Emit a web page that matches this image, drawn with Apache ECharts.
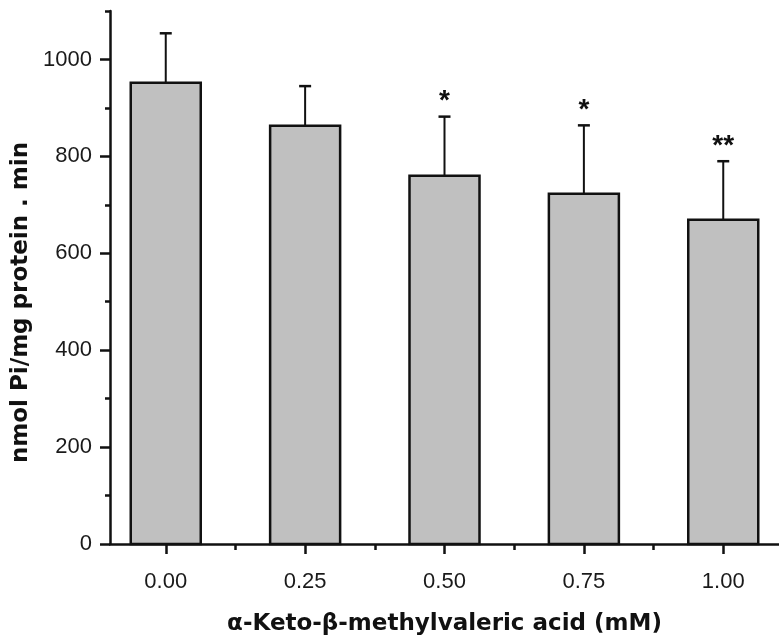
<!DOCTYPE html>
<html>
<head>
<meta charset="utf-8">
<script src="https://cdn.jsdelivr.net/npm/echarts@6/dist/echarts.min.js"></script>
<style>html,body{margin:0;padding:0;background:#fff}#c{width:779px;height:641px}</style>
</head>
<body>
<div id="c"></div>
<script>
var concentrations = [0, 0.25, 0.5, 0.75, 1.0];
var means = [952, 863, 760, 723, 669];
var sds = [102, 82, 122, 141, 121];
var marks = ["", "", "*", "*", "**"];
var yMajorTicks = [0, 200, 400, 600, 800, 1000];
var yMinorTicks = [100, 300, 500, 700, 900, 1100];
var xMajorTicks = [0, 0.25, 0.5, 0.75, 1.0];
var xMinorTicks = [0.125, 0.375, 0.625, 0.875];

var chart = echarts.init(document.getElementById('c'));
var seriesData = concentrations.map(function (x, i) { return [x, means[i], means[i] + sds[i], i]; });

var axisLineStyle = { color: '#111', width: 2.5 };
var tickFont = { fontFamily: "'Liberation Sans', Arial, sans-serif", fontSize: 22, color: '#1a1a1a' };

chart.setOption({
  animation: false,
  grid: { left: 110, right: -4, top: 11, bottom: 87, containLabel: false },
  xAxis: [{
    type: 'value', min: -0.1, max: 1.1,
    name: 'α-Keto-β-methylvaleric acid (mM)', nameLocation: 'middle', nameGap: 69,
    nameTextStyle: { fontFamily: "'DejaVu Sans'", fontWeight: 'bold', fontSize: 23, color: '#111' },
    axisLine: { show: true, onZero: false, lineStyle: axisLineStyle },
    axisTick: { show: true, length: 10, inside: false, customValues: xMajorTicks, lineStyle: { color: '#111', width: 2.5 } },
    axisLabel: Object.assign({ customValues: xMajorTicks, margin: 27, formatter: function (v) { return v.toFixed(2); } }, tickFont),
    splitLine: { show: false }
  }, {
    type: 'value', min: -0.1, max: 1.1, position: 'bottom',
    axisLine: { show: false, onZero: false },
    axisTick: { show: true, length: 6, customValues: xMinorTicks, lineStyle: { color: '#111', width: 2.5 } },
    axisLabel: { show: false },
    splitLine: { show: false }
  }],
  yAxis: [{
    type: 'value', min: 0, max: 1100,
    name: 'nmol Pi/mg protein . min', nameLocation: 'middle', nameGap: 76, nameRotate: 90,
    nameTextStyle: { fontFamily: "'DejaVu Sans'", fontWeight: 'bold', fontSize: 23, color: '#111', padding: [0, 50, 0, 0] },
    axisLine: { show: true, onZero: false, lineStyle: axisLineStyle },
    axisTick: { show: true, length: 10, customValues: yMajorTicks, lineStyle: { color: '#111', width: 2.5 } },
    axisLabel: Object.assign({ customValues: yMajorTicks, margin: 18, formatter: function (v) { return String(v); } }, tickFont),
    splitLine: { show: false }
  }, {
    type: 'value', min: 0, max: 1100, position: 'left',
    axisLine: { show: false, onZero: false },
    axisTick: { show: true, length: 5, customValues: yMinorTicks, lineStyle: { color: '#111', width: 2.5 } },
    axisLabel: { show: false },
    splitLine: { show: false }
  }],
  series: [{
    type: 'custom',
    data: seriesData,
    z: 3,
    renderItem: function (params, api) {
      var x = api.value(0);
      var top = api.coord([x, api.value(1)]);
      var base = api.coord([x, 0]);
      var hi = api.coord([x, api.value(2)]);
      var idx = api.value(3);
      var bw = 70;
      var children = [
        { type: 'line', shape: { x1: top[0], y1: top[1], x2: hi[0], y2: hi[1] }, style: { stroke: '#111', lineWidth: 2 } },
        { type: 'line', shape: { x1: hi[0] - 6, y1: hi[1], x2: hi[0] + 6, y2: hi[1] }, style: { stroke: '#111', lineWidth: 2.5 } },
        { type: 'rect', shape: { x: top[0] - bw / 2, y: top[1], width: bw, height: base[1] - top[1] },
          style: { fill: '#c0c0c0', stroke: '#111', lineWidth: 2.5 } }
      ];
      if (marks[idx]) {
        children.push({
          type: 'text',
          style: {
            text: marks[idx], x: hi[0], y: hi[1] - 1,
            align: 'center', verticalAlign: 'bottom',
            fontFamily: "'Liberation Sans'", fontWeight: 'bold', fontSize: 28, fill: '#111'
          }
        });
      }
      return { type: 'group', children: children };
    }
  }]
});
</script>
</body>
</html>
